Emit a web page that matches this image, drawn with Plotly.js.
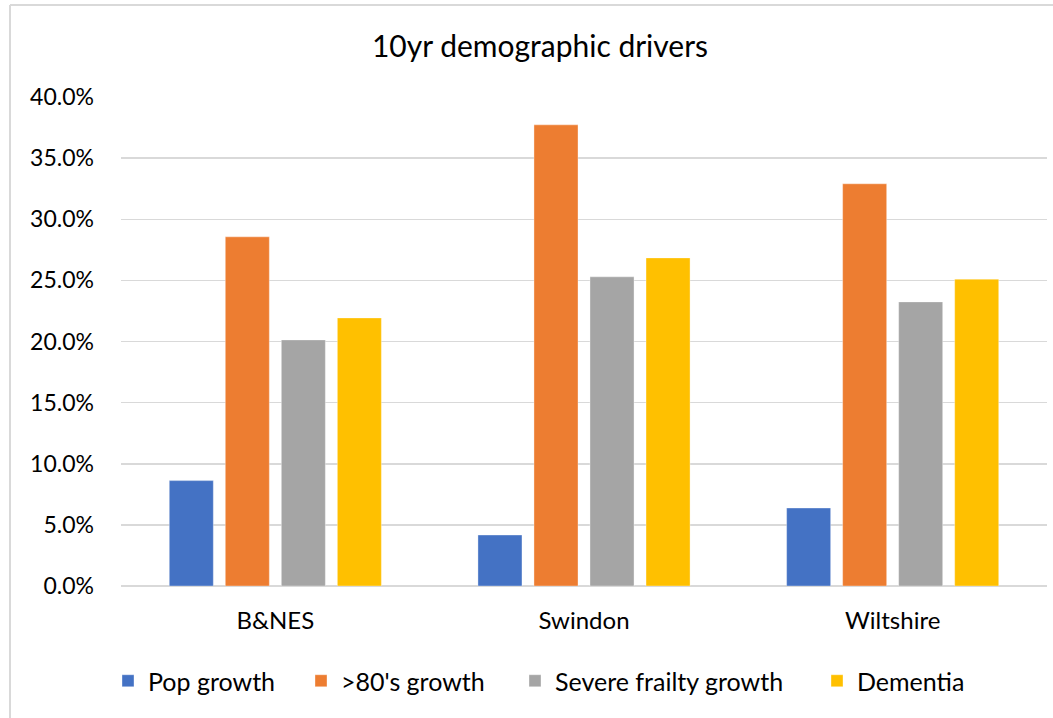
<!DOCTYPE html>
<html>
<head>
<meta charset="utf-8">
<script src="https://cdn.plot.ly/plotly-3.0.1.min.js"></script>
<style>
  html, body { margin: 0; padding: 0; background: #fff; }
  #chart { width: 1053px; height: 718px; }
</style>
</head>
<body>
<div id="chart"></div>
<script>
// Data
const categories = ["B&NES", "Swindon", "Wiltshire"];
const popGrowth = [0.0862, 0.0417, 0.0638];
const over80Growth = [0.2856, 0.3772, 0.3290];
const severeFrailtyGrowth = [0.2013, 0.2529, 0.2324];
const dementia = [0.2193, 0.2684, 0.2510];
const seriesNames = ["Pop growth", ">80's growth", "Severe frailty growth", "Dementia"];
const yTickVals = [0, 0.05, 0.10, 0.15, 0.20, 0.25, 0.30, 0.35, 0.40];

const colors = ["#4472C4", "#ED7D31", "#A5A5A5", "#FFC000"];
const seriesValues = [popGrowth, over80Growth, severeFrailtyGrowth, dementia];
const legendIds = ["legend", "legend2", "legend3", "legend4"];

const FONT = "Lato, 'Open Sans', sans-serif";

const traces = seriesValues.map((vals, i) => ({
  type: "bar",
  name: seriesNames[i],
  x: categories,
  y: vals,
  marker: { color: colors[i], line: { color: "rgba(255,255,255,0.35)", width: 1 } },
  legend: legendIds[i],
  hoverinfo: "x+y+name"
}));

// plot area: left 121, right 1047, top 97, bottom 586
const L = 121, R = 6, T = 97, B = 132;
const W = 1053, H = 718;
const pw = W - L - R, ph = H - T - B;
const px2x = p => (p - L) / pw;
const py2y = p => 1 - (p - T) / ph;

const legendLefts = [108, 301, 515, 817];
const legendBase = {
  orientation: "h",
  xanchor: "left",
  yanchor: "middle",
  y: py2y(681),
  font: { family: FONT, size: 25, color: "#000" },
  bgcolor: "rgba(0,0,0,0)",
  borderwidth: 0
};
const layout = {
  width: W,
  height: H,
  margin: { l: L, r: R, t: T, b: B, pad: 0 },
  paper_bgcolor: "#ffffff",
  plot_bgcolor: "#ffffff",
  title: {
    text: "10yr demographic drivers",
    font: { family: FONT, size: 30, color: "#000" },
    x: 540 / W,
    xanchor: "center",
    y: 1 - 46 / H,
    yanchor: "middle"
  },
  barmode: "group",
  bargap: 0.274,
  bargroupgap: 0.214,
  xaxis: {
    type: "category",
    showgrid: false,
    showline: false,
    zeroline: false,
    ticks: "",
    tickfont: { family: FONT, size: 24, color: "#000" },
    ticklabelstandoff: 18
  },
  yaxis: {
    range: [0, 0.4],
    tickvals: yTickVals,
    tickformat: ".1%",
    showgrid: true,
    gridcolor: "#d9d9d9",
    gridwidth: 1.5,
    zeroline: true,
    zerolinecolor: "#d9d9d9",
    zerolinewidth: 1.5,
    showline: false,
    ticks: "",
    tickfont: { family: FONT, size: 23, color: "#000" },
    ticklabelstandoff: 26
  },
  showlegend: true,
  shapes: [
    { type: "line", xref: "paper", yref: "paper", x0: px2x(10), x1: px2x(1053), y0: py2y(5), y1: py2y(5),
      line: { color: "#d9d9d9", width: 2 } },
    { type: "line", xref: "paper", yref: "paper", x0: px2x(10), x1: px2x(10), y0: py2y(5), y1: py2y(718),
      line: { color: "#d9d9d9", width: 2 } }
  ]
};
legendIds.forEach((id, i) => {
  layout[id] = Object.assign({}, legendBase, { x: px2x(legendLefts[i]) });
});

Plotly.newPlot("chart", traces, layout, { displayModeBar: false, staticPlot: true });
</script>
</body>
</html>
